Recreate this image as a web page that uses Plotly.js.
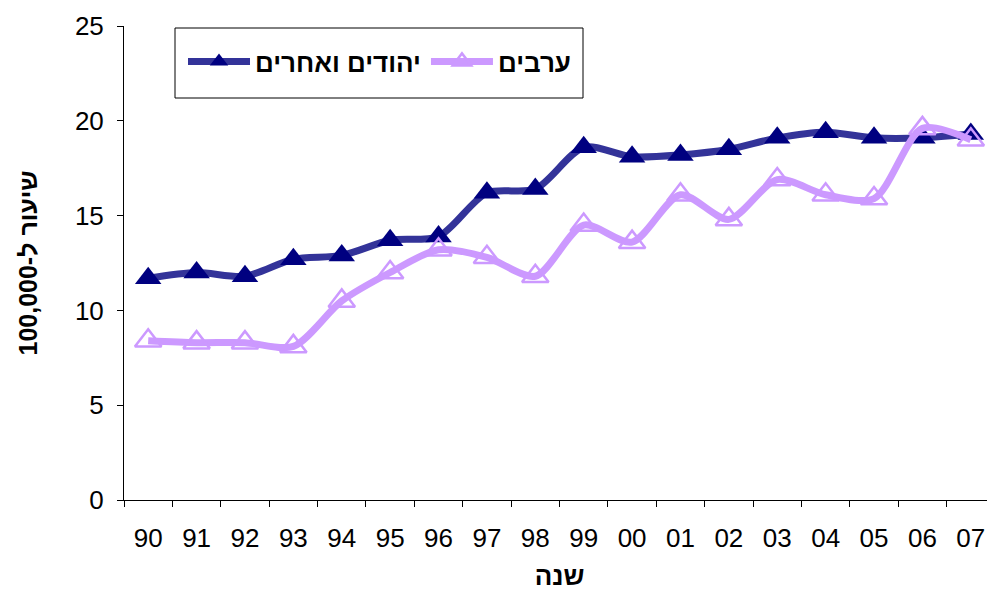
<!DOCTYPE html>
<html>
<head>
<meta charset="utf-8">
<script src="https://cdn.plot.ly/plotly-3.0.1.min.js"></script>
<style>
html, body { margin:0; padding:0; overflow:hidden; background:#fff; }
#chart { width:996px; height:593px; }
</style>
</head>
<body>
<div id="chart"></div>
<script>
const years = ["90","91","92","93","94","95","96","97","98","99","00","01","02","03","04","05","06","07"];
const jewsOthers = [11.7,12.0,11.8,12.7,12.9,13.7,13.9,16.2,16.4,18.6,18.1,18.2,18.5,19.1,19.4,19.1,19.1,19.3];
const arabs = [8.4,8.3,8.3,8.1,10.5,12.0,13.2,12.8,11.8,14.5,13.6,16.1,14.8,16.9,16.1,15.9,19.6,19.0];
const seriesNames = ["יהודים ואחרים","ערבים"];
const yTitle = "שיעור ל-100,000";
const xTitle = "שנה";

const W = 996, L = 124, R = 1;
const PW = W - L - R;

const traces = [
  {
    x: years, y: jewsOthers, name: seriesNames[0], type: 'scatter', mode: 'lines+markers',
    line: {color:'#333399', width:7, shape:'spline', smoothing:0.8},
    marker: {symbol:'triangle-up', size:23, color:'#000080', line:{width:0}}
  },
  {
    x: years, y: arabs, name: seriesNames[1], type: 'scatter', mode: 'lines+markers',
    line: {color:'#CC99FF', width:7, shape:'spline', smoothing:0.8},
    marker: {symbol:'triangle-up-open', size:23, color:'#CC99FF', line:{width:2.5, color:'#CC99FF'}}
  }
];

const layout = {
  width:W, height:593,
  margin:{l:L, r:R, t:26, b:93},
  paper_bgcolor:'#ffffff', plot_bgcolor:'#ffffff',
  font:{family:'Liberation Sans, Arial, sans-serif', color:'#000'},
  showlegend:true,
  legend:{
    orientation:'h', x:(183-L)/PW, y:(500-38)/474, xanchor:'left', yanchor:'top',
    bgcolor:'rgba(0,0,0,0)', borderwidth:0,
    font:{size:26, family:'Liberation Sans, Arial, sans-serif', weight:'bold', color:'#000'},
    itemwidth:62
  },
  shapes:[{
    type:'rect', xref:'paper', yref:'paper',
    x0:(175-L)/PW, x1:(583-L)/PW, y0:(500-98)/474, y1:(500-28)/474,
    line:{color:'#000', width:1}, fillcolor:'#fff', layer:'below'
  }],
  xaxis:{
    type:'category', range:[-0.5,17.5], tickson:'boundaries',
    showline:true, linecolor:'#000', linewidth:1, mirror:false,
    ticks:'outside', ticklen:6, tickcolor:'#000', showgrid:false, zeroline:false,
    tickfont:{size:26, color:'#000'}, ticklabelstandoff:15,
    title:{text:xTitle, font:{size:26, weight:'bold', color:'#000'}, standoff:14}
  },
  yaxis:{
    range:[0,25], dtick:5, tick0:0,
    showline:true, linecolor:'#000', linewidth:1,
    ticks:'outside', ticklen:6, tickcolor:'#000', showgrid:false, zeroline:false,
    tickfont:{size:26, color:'#000'}, ticklabelstandoff:8,
    title:{text:yTitle, font:{size:25, weight:'bold', color:'#000'}, standoff:30}
  }
};

Plotly.newPlot('chart', traces, layout, {displayModeBar:false, staticPlot:true});
</script>
</body>
</html>
